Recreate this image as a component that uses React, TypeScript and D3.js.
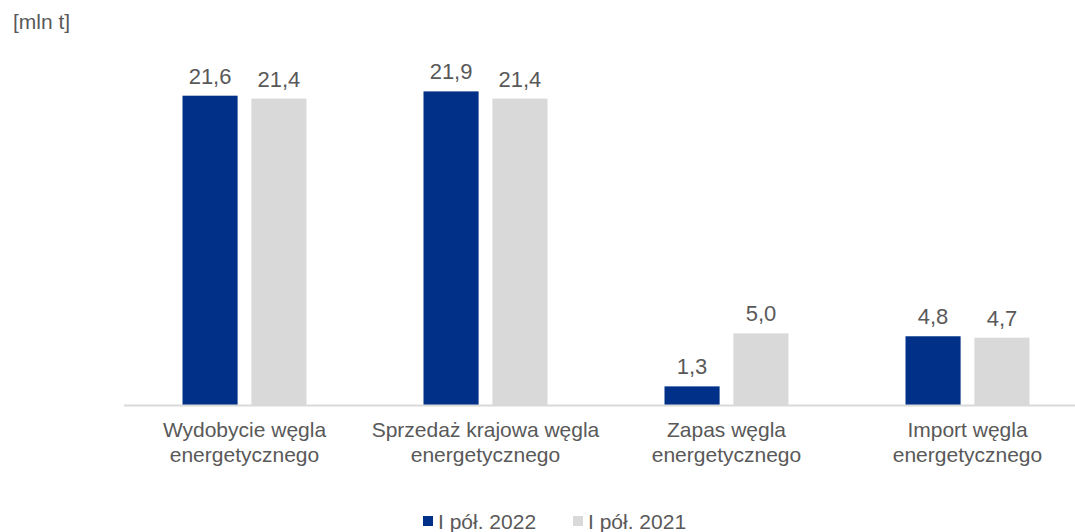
import React from "react";
import * as d3 from "d3";

const categories: string[][] = [
  ["Wydobycie węgla", "energetycznego"],
  ["Sprzedaż krajowa węgla", "energetycznego"],
  ["Zapas węgla", "energetycznego"],
  ["Import węgla", "energetycznego"],
];
const series2022: number[] = [21.6, 21.9, 1.3, 4.8];
const series2021: number[] = [21.4, 21.4, 5.0, 4.7];
const seriesNames: string[] = ["I pół. 2022", "I pół. 2021"];
const unitLabel = "[mln t]";

const W = 1075;
const H = 532;
const FONT = "'Liberation Sans', Arial, sans-serif";
const TEXT = "#595959";
const COLORS = ["#003087", "#d9d9d9"];

export default function App() {
  const idx = categories.map((_, i) => String(i));
  const x = d3.scaleBand<string>().domain(idx).range([124, 1088]).paddingInner(0).paddingOuter(0);
  const inner = d3.scaleBand<string>().domain(["0", "1"]).range([58.5, 182.5]).paddingInner(0.2).paddingOuter(0);
  const y = d3.scaleLinear().domain([0, 25]).range([405, 47]);
  const fmt = (v: number) => d3.format(".1f")(v).replace(".", ",");
  const all = [series2022, series2021];

  return (
    <svg width={W} height={H} style={{ position: "absolute", left: 0, top: 0, background: "#fff" }}>
      <text x={13} y={29} fontFamily={FONT} fontSize={21} fill={TEXT}>{unitLabel}</text>
      {idx.map((c, i) => (
        <g key={c}>
          {all.map((s, si) => {
            const bx = (x(c) as number) + (inner(String(si)) as number);
            const bw = inner.bandwidth();
            return (
              <g key={si}>
                <rect x={bx} y={y(s[i])} width={bw} height={y(0) - y(s[i])} fill={COLORS[si]} />
                <text x={bx + bw / 2} y={y(s[i]) - 12} textAnchor="middle" fontFamily={FONT} fontSize={22} fill={TEXT}>{fmt(s[i])}</text>
              </g>
            );
          })}
          {categories[i].map((line, li) => (
            <text key={li} x={(x(c) as number) + x.bandwidth() / 2} y={437 + li * 25} textAnchor="middle" fontFamily={FONT} fontSize={21} fill={TEXT}>{line}</text>
          ))}
        </g>
      ))}
      <line x1={124} x2={W} y1={y(0) + 0.5} y2={y(0) + 0.5} stroke="#d9d9d9" strokeWidth={2} />
      {seriesNames.map((n, si) => {
        const lx = [423, 573][si];
        return (
          <g key={n}>
            <rect x={lx} y={516} width={10} height={10} fill={COLORS[si]} />
            <text x={lx + 15} y={529} fontFamily={FONT} fontSize={21} fill={TEXT}>{n}</text>
          </g>
        );
      })}
    </svg>
  );
}
